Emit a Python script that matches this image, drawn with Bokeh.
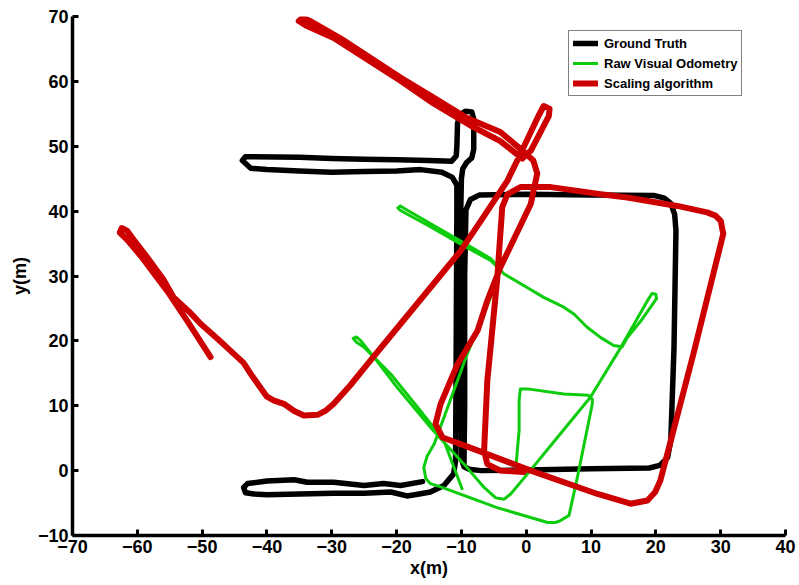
from bokeh.plotting import figure
from bokeh.models import Range1d, FixedTicker, Legend, LegendItem
from bokeh.embed import file_html
from bokeh.resources import INLINE

# ---------------- data ----------------
x_ticks = [-70, -60, -50, -40, -30, -20, -10, 0, 10, 20, 30, 40]
x_tick_labels = ["\u221270", "\u221260", "\u221250", "\u221240", "\u221230", "\u221220",
                 "\u221210", "0", "10", "20", "30", "40"]
y_ticks = [-10, 0, 10, 20, 30, 40, 50, 60, 70]
y_tick_labels = ["\u221210", "0", "10", "20", "30", "40", "50", "60", "70"]

series_names = ["Ground Truth", "Raw Visual Odometry", "Scaling algorithm"]

gt_x = [-16.0, -19.4, -22.0, -25.0, -29.7, -33.8, -35.8, -40.0, -43.0, -43.6,
        -43.3, -42.0, -40.0, -35.0, -29.7, -25.0, -20.9, -18.4, -16.5, -14.8,
        -12.7, -11.2, -10.9, -10.8, -10.7, -10.7, -11.4, -13.0, -16.3, -20.0,
        -25.0, -30.0, -35.0, -40.0, -42.5, -43.8, -43.3, -42.0, -35.0, -30.0,
        -25.0, -20.0, -15.0, -11.5, -10.8, -10.7, -10.6, -10.3, -9.4, -8.4,
        -8.1, -8.1, -8.4, -9.2, -9.8, -10.0, -10.1, -10.1, -10.0, -9.6,
        -8.8, -7.0, 0.0, 10.0, 19.0, 20.6, 21.8, 22.3, 22.8, 23.1,
        22.9, 22.3, 21.3, 19.8, 10.0, 0.0, -7.2, -8.6, -9.3, -9.5,
        -9.5, -9.6]
gt_y = [-1.7, -2.3, -2.0, -2.3, -1.8, -1.8, -1.4, -1.6, -2.0, -2.6,
        -3.4, -3.6, -3.7, -3.6, -3.5, -3.5, -3.3, -3.9, -3.6, -3.3,
        -2.3, -0.5, 1.5, 20.0, 40.0, 44.0, 45.2, 46.0, 46.4, 46.2,
        46.1, 46.0, 46.2, 46.4, 46.6, 47.8, 48.4, 48.4, 48.3, 48.1,
        48.0, 47.9, 47.8, 47.7, 48.5, 50.0, 53.5, 54.8, 55.4, 55.3,
        54.2, 49.5, 48.2, 47.5, 46.5, 45.0, 40.0, 20.0, 1.8, 0.6,
        0.2, 0.0, 0.1, 0.3, 0.4, 0.8, 2.0, 4.6, 19.0, 37.0,
        39.5, 41.2, 42.0, 42.4, 42.5, 42.6, 42.5, 41.8, 40.2, 30.0,
        10.0, 1.0]

vo_x = [-9.9, -12.7, -16.3, -20.9, -25.0, -26.2, -26.7, -26.2, -25.5, -23.5,
        -19.9, -14.8, -9.6, -6.5, -4.7, -3.4, -2.4, 0.2, 4.8, 9.9,
        14.6, 18.7, 19.4, 20.0, 20.1, 17.7, 15.6, 14.8, 13.5, 11.5,
        9.4, 7.4, 5.8, 2.7, 0.2, -3.4, -5.5, -10.1, -14.8, -19.4,
        -19.8, -19.4, -18.8, -14.8, -10.1, -5.5, -4.0, -5.5, -7.0, -9.1,
        -10.6, -14.2, -15.3, -15.8, -15.5, -14.8, -13.2, -4.5, 3.3, 4.5,
        5.3, 6.6, 7.9, 10.2, 10.2, 9.6, 5.8, 0.2, -0.9, -1.1,
        -1.1, -1.6]
vo_y = [-2.8, 4.6, 9.2, 14.9, 19.0, 19.8, 20.4, 20.6, 20.0, 17.5,
        12.8, 6.7, 1.0, -2.6, -4.2, -4.4, -3.6, -0.5, 5.1, 11.3,
        19.0, 26.2, 27.3, 27.2, 26.5, 23.1, 20.5, 19.1, 19.3, 20.5,
        22.1, 24.1, 25.2, 26.7, 28.2, 30.3, 32.4, 34.9, 37.6, 40.1,
        40.5, 40.8, 40.4, 38.1, 35.4, 32.7, 31.1, 26.7, 23.1, 18.0,
        13.9, 4.1, 2.2, 0.5, -1.2, -2.0, -2.5, -5.7, -8.0, -8.0,
        -7.7, -6.9, -1.0, 10.3, 11.0, 11.6, 11.8, 12.6, 12.6, 10.8,
        6.2, 0.5]

sc_x = [-48.7, -52.3, -55.4, -57.0, -59.3, -61.6, -62.7, -62.4, -61.6, -60.5,
        -58.5, -56.0, -54.4, -52.0, -50.2, -47.5, -45.1, -43.6, -42.5, -41.3,
        -40.0, -38.9, -37.4, -35.8, -34.3, -32.2, -31.0, -29.7, -27.1, -24.5,
        -19.4, -10.1, -7.0, -2.9, -0.9, 1.9, 2.7, 3.6, 3.5, 0.7,
        -0.6, -4.0, -8.6, -14.3, -19.4, -29.7, -34.0, -35.1, -34.5, -33.3,
        -28.6, -19.4, -14.3, -9.2, -4.0, -0.9, 1.1, 1.7, 0.7, -4.0,
        -6.0, -7.5, -10.6, -13.2, -14.0, -12.9, -9.6, 0.7, 11.0, 16.1,
        18.7, 19.9, 20.7, 22.3, 25.8, 30.4, 30.0, 29.2, 27.9, 23.3,
        15.6, 11.5, 3.8, -0.9, -2.9, -3.7, -4.5, -5.5, -6.0, -6.5,
        -6.0, -4.0, -0.4]
sc_y = [17.5, 23.1, 27.7, 29.8, 32.9, 35.6, 36.7, 37.4, 37.0, 35.5,
        32.9, 29.5, 26.7, 24.5, 22.6, 20.2, 18.0, 16.6, 14.9, 13.2,
        11.4, 10.8, 10.3, 9.2, 8.5, 8.6, 9.2, 10.3, 13.2, 16.4,
        22.6, 33.9, 38.5, 44.7, 48.8, 54.7, 56.2, 55.8, 54.7, 49.3,
        48.1, 50.8, 53.2, 56.6, 60.1, 66.7, 68.6, 69.3, 69.8, 69.3,
        66.6, 60.6, 57.5, 54.4, 52.2, 49.6, 47.8, 45.8, 41.1, 31.3,
        26.2, 21.6, 16.4, 10.3, 7.2, 5.1, 3.9, 0.0, -3.6, -5.1,
        -4.6, -3.3, -1.5, 4.6, 18.0, 36.5, 38.5, 39.3, 39.8, 40.8,
        42.1, 42.6, 43.7, 43.7, 42.6, 40.6, 29.3, 19.0, 13.9, 3.1,
        1.0, 0.0, -0.2]

# ---------------- figure ----------------
FONT = "Liberation Sans"

p = figure(width=799, height=585, output_backend="svg", toolbar_location=None,
           x_range=Range1d(-70, 40), y_range=Range1d(-10, 70),
           min_border_left=72, min_border_right=14, min_border_top=16, min_border_bottom=50)
p.outline_line_color = None
p.background_fill_color = "white"
p.border_fill_color = "white"
p.xgrid.visible = False
p.ygrid.visible = False

r_gt = p.line(gt_x, gt_y, line_color="#000000", line_width=5.5,
              line_join="round", line_cap="round")
r_vo = p.line(vo_x, vo_y, line_color="#0dcc0d", line_width=3,
              line_join="round", line_cap="round")
r_sc = p.line(sc_x, sc_y, line_color="#cc0000", line_width=6,
              line_join="round", line_cap="round")

for ax, ticks, labels in ((p.xaxis[0], x_ticks, x_tick_labels),
                          (p.yaxis[0], y_ticks, y_tick_labels)):
    ax.ticker = FixedTicker(ticks=ticks)
    ax.major_label_overrides = {t: l for t, l in zip(ticks, labels)}
    ax.minor_tick_line_color = None
    ax.major_tick_in = 6
    ax.major_tick_out = 0
    ax.major_tick_line_width = 3
    ax.major_tick_line_color = "black"
    ax.axis_line_width = 3.5
    ax.axis_line_color = "black"
    ax.major_label_text_font = FONT
    ax.major_label_text_font_style = "bold"
    ax.major_label_text_font_size = "18px"
    ax.major_label_text_color = "black"
    ax.axis_label_text_font = FONT
    ax.axis_label_text_font_style = "bold"
    ax.axis_label_text_font_size = "18px"
    ax.axis_label_text_color = "black"
    ax.major_label_standoff = 4

p.xaxis.axis_label = "x(m)"
p.yaxis.axis_label = "y(m)"
p.xaxis.axis_label_standoff = 2
p.yaxis.axis_label_standoff = 5

legend = Legend(items=[LegendItem(label=series_names[0], renderers=[r_gt]),
                       LegendItem(label=series_names[1], renderers=[r_vo]),
                       LegendItem(label=series_names[2], renderers=[r_sc])],
                location=(496, 439))
legend.label_text_font = FONT
legend.label_text_font_style = "bold"
legend.label_text_font_size = "13px"
legend.label_text_color = "black"
legend.glyph_width = 25
legend.glyph_height = 16
legend.label_height = 16
legend.spacing = 4
legend.padding = 4
legend.margin = 0
legend.label_standoff = 6
legend.border_line_color = "black"
legend.border_line_width = 1
legend.background_fill_color = "white"
legend.background_fill_alpha = 1
p.add_layout(legend, "center")

open("out.html", "w").write(file_html(p, INLINE))
